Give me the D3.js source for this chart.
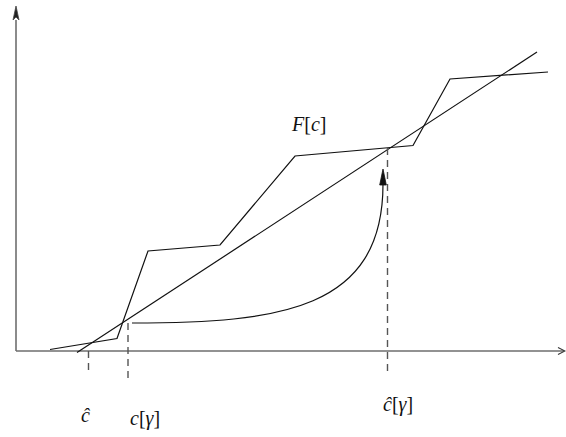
<!DOCTYPE html>
<head>
<meta charset="utf-8">
<style>
body { margin: 0; background: #fff; }
.axis { fill: none; stroke: #6e6e6e; stroke-width: 1.6px; }
.line { fill: none; stroke: #111; stroke-width: 1.2px; }
.dash { fill: none; stroke: #555; stroke-width: 1.4px; stroke-dasharray: 7,5; }
text { font-family: "Liberation Serif", "DejaVu Serif", serif; font-size: 20px; fill: #111; }
</style>
</head>
<body>
<script src="https://d3js.org/d3.v7.min.js"></script>
<script>

var width = 566, height = 437;

// piecewise F[c]
var fPoints = [[34, 1.5], [101, 12.5], [132, 100], [204, 106], [279, 195], [397, 205.5], [434, 272], [532, 279]];
// straight line
var linePoints = [[61, -1.5], [521, 299]];
// dashed verticals: x, top, bottom
var dashes = [[72.5, 0, -22], [112, 28, -27], [371.5, 203, -22]];
// curved arrow (start, control1, control2, end) and arrow tip
var curvePts = [[116, 28], [264, 28], [367, 41], [367, 167]];
var arrowTip = [367, 182];
// labels: text parts, x, y
var labels = [
  {parts: [["ĉ", "italic"]], x: 65, y: -71},
  {parts: [["c", "italic"], ["[", "normal"], ["γ", "italic"], ["]", "normal"]], x: 114, y: -74},
  {parts: [["ĉ", "italic"], ["[", "normal"], ["γ", "italic"], ["]", "normal"]], x: 367, y: -60},
  {parts: [["F", "italic"], ["[", "normal"], ["c", "italic"], ["]", "normal"]], x: 276, y: 220}
];

var x = d3.scaleLinear().domain([0, 550]).range([16, 566]);
var y = d3.scaleLinear().domain([0, 345]).range([351, 6]);

var svg = d3.select("body").append("svg")
    .attr("width", width)
    .attr("height", height);

var line = d3.line()
    .x(function(d) { return x(d[0]); })
    .y(function(d) { return y(d[1]); });

// axes
svg.append("path").attr("class", "axis")
    .attr("d", line([[0, 0], [0, 331]]));
svg.append("path").attr("class", "axis")
    .attr("d", line([[0, 0], [548, 0]]));
// y arrowhead (filled)
svg.append("path")
    .attr("d", line([[-3, 331], [0, 345], [3, 331], [0, 334]]) + "Z")
    .style("fill", "#222").style("stroke", "#444").style("stroke-width", "0.8px");
// x arrowhead (open)
svg.append("path")
    .attr("d", line([[542, 3.5], [549, 0], [542, -3.5]]))
    .style("fill", "none").style("stroke", "#333").style("stroke-width", "1.1px");

// F[c]
svg.append("path").attr("class", "line").attr("d", line(fPoints));
// straight line
svg.append("path").attr("class", "line").attr("d", line(linePoints));

// dashed lines
svg.selectAll(".dash").data(dashes).enter().append("path")
    .attr("class", "dash")
    .attr("d", function(d) { return line([[d[0], d[1]], [d[0], d[2]]]); });

// curve
var p = d3.path();
p.moveTo(x(curvePts[0][0]), y(curvePts[0][1]));
p.bezierCurveTo(x(curvePts[1][0]), y(curvePts[1][1]),
                x(curvePts[2][0]), y(curvePts[2][1]),
                x(curvePts[3][0]), y(curvePts[3][1]));
svg.append("path").attr("class", "line").attr("d", p.toString());
// arrowhead
var ax = curvePts[3][0];
svg.append("path")
    .attr("d", line([[ax - 3.3, curvePts[3][1] - 1], [arrowTip[0], arrowTip[1]], [ax + 3.3, curvePts[3][1] - 1]]) + "Z")
    .style("fill", "#111").style("stroke", "#111").style("stroke-width", "0.8px");

// labels
labels.forEach(function(l) {
  var t = svg.append("text")
      .attr("x", x(l.x))
      .attr("y", y(l.y));
  l.parts.forEach(function(pt) {
    t.append("tspan").style("font-style", pt[1]).text(pt[0]);
  });
});

</script>
</body>
